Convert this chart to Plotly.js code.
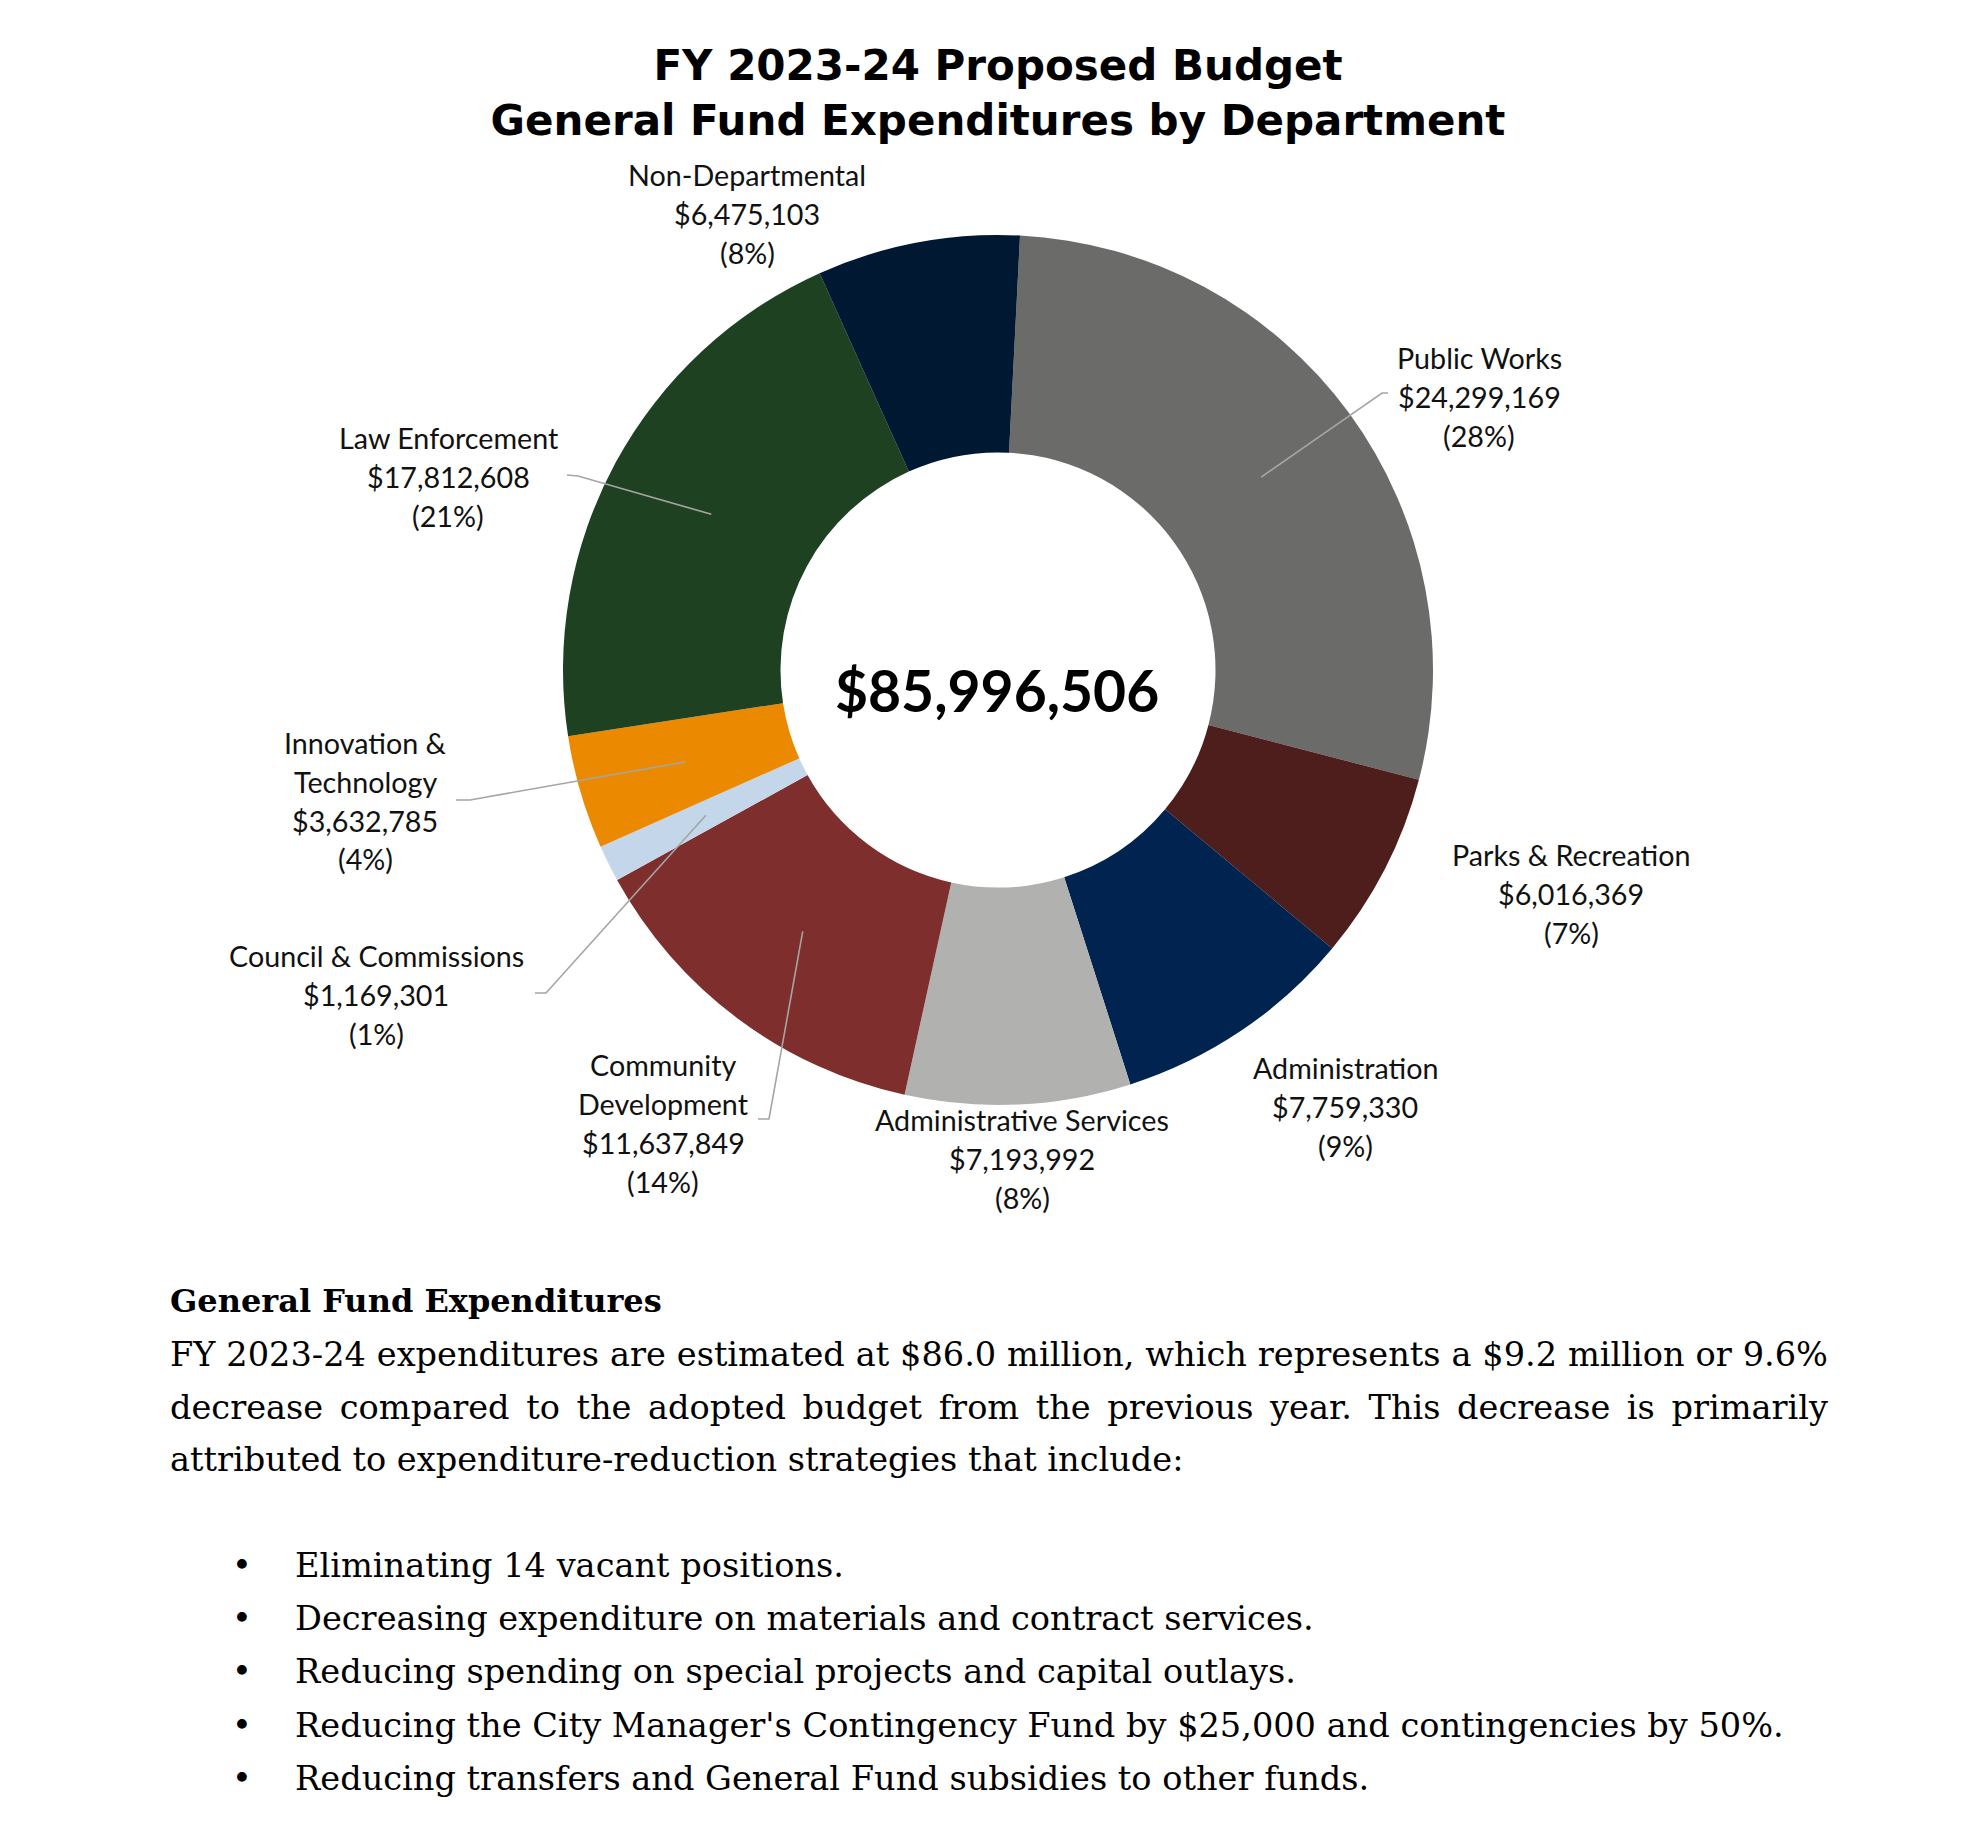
<!DOCTYPE html>
<html>
<head>
<meta charset="utf-8">
<script src="https://cdn.plot.ly/plotly-3.0.1.min.js"></script>
<style>
  html, body { margin: 0; padding: 0; background: #ffffff; }
  #chart { width: 1984px; height: 1832px; }
</style>
</head>
<body>
<div id="chart"></div>
<script>
// ---------------- DATA ----------------
const departments = [
  'Public Works', 'Parks & Recreation', 'Administration', 'Administrative Services',
  'Community Development', 'Council & Commissions', 'Innovation & Technology',
  'Law Enforcement', 'Non-Departmental'
];
const departmentLabelLines = [
  ['Public Works'], ['Parks & Recreation'], ['Administration'], ['Administrative Services'],
  ['Community', 'Development'], ['Council & Commissions'], ['Innovation &', 'Technology'],
  ['Law Enforcement'], ['Non-Departmental']
];
const expenditures = [
  24299169, 6016369, 7759330, 7193992, 11637849, 1169301, 3632785, 17812608, 6475103
];
const sliceColors = [
  '#6b6c69', '#4d1e1c', '#002350', '#b1b2af', '#7d2e2d', '#c4d6e9', '#eb8a00', '#1e4121', '#011833'
];
const titleLines = ['FY 2023-24 Proposed Budget', 'General Fund Expenditures by Department'];
const paragraphHeading = 'General Fund Expenditures';
const paragraphLines = [
  'FY 2023-24 expenditures are estimated at $86.0 million, which represents a $9.2 million or 9.6%',
  'decrease compared to the adopted budget from the previous year. This decrease is primarily',
  'attributed to expenditure-reduction strategies that include:'
];
const bulletItems = [
  'Eliminating 14 vacant positions.',
  'Decreasing expenditure on materials and contract services.',
  'Reducing spending on special projects and capital outlays.',
  "Reducing the City Manager's Contingency Fund by $25,000 and contingencies by 50%.",
  'Reducing transfers and General Fund subsidies to other funds.'
];

// ---------------- LAYOUT / STYLE ----------------
const W = 1984, H = 1832;
const px = x => x / W;
const py = y => 1 - y / H;

const donut = { cx: 998, cy: 670, r: 435, hole: 0.5, rotation: 2.9 };
const labelFont = { family: 'Lato, "Open Sans", sans-serif', size: 28.7, color: '#111111' };
const labelLineGap = 39;
// label block centres and leader-line elbows (pixels)
const labelPlacement = [
  { x: 1479, y: 397, leader: [[1388, 393], [1382, 393]] },
  { x: 1571, y: 894 },
  { x: 1345, y: 1107 },
  { x: 1022, y: 1159 },
  { x: 663,  y: 1123, leader: [[758, 1119], [769, 1119]] },
  { x: 376,  y: 995,  leader: [[535, 993], [546, 993]] },
  { x: 365,  y: 801,  leader: [[456, 800], [470, 800]] },
  { x: 448,  y: 477,  leader: [[567, 475], [578, 476]] },
  { x: 747,  y: 214 }
];
const leaderColor = '#a5a5a5';

const textFont = 'DejaVu Serif, "Liberation Serif", serif';
const para = { left: 168, width: 1658, headY: 1301, lineYs: [1354, 1407, 1459],
               bulletX: 242, bulletTextX: 293, bulletYs: [1565, 1618, 1671, 1725, 1778],
               size: 33.6, headSize: 32 };

// ---------------- BUILD ----------------
const total = expenditures.reduce((a, b) => a + b, 0);
const fmtMoney = v => '$' + v.toLocaleString('en-US');

const annotations = [];
const shapes = [];

// centre total
annotations.push({
  xref: 'paper', yref: 'paper', x: px(donut.cx - 1), y: py(donut.cy + 20),
  xanchor: 'center', yanchor: 'middle', showarrow: false,
  text: fmtMoney(total),
  font: { family: 'Lato, sans-serif', size: 57, color: '#000', weight: 700 }
});

// slice labels and leader lines
let cum = 0;
const ringMid = donut.r * (1 + donut.hole) / 2;
expenditures.forEach((v, i) => {
  const midAngle = (donut.rotation + (cum + v / 2) / total * 360) * Math.PI / 180;
  cum += v;
  const pct = Math.round(v / total * 100);
  const lines = departmentLabelLines[i].concat([fmtMoney(v), '(' + pct + '%)']);
  const p = labelPlacement[i];
  lines.forEach((t, k) => {
    const ly = p.y + (k - (lines.length - 1) / 2) * labelLineGap;
    annotations.push({
      xref: 'paper', yref: 'paper', x: px(p.x), y: py(ly),
      xanchor: 'center', yanchor: 'middle', showarrow: false,
      text: t, font: labelFont
    });
  });
  if (p.leader) {
    const ix = donut.cx + ringMid * Math.sin(midAngle);
    const iy = donut.cy - ringMid * Math.cos(midAngle);
    const pts = p.leader.concat([[ix, iy]]);
    const path = pts.map((q, k) => (k ? 'L' : 'M') + px(q[0]).toFixed(5) + ',' + py(q[1]).toFixed(5)).join(' ');
    shapes.push({ type: 'path', xref: 'paper', yref: 'paper', path: path,
                  line: { color: leaderColor, width: 1.6 }, layer: 'above' });
  }
});

// paragraph
annotations.push({
  xref: 'paper', yref: 'paper', x: px(para.left), y: py(para.headY),
  xanchor: 'left', yanchor: 'middle', align: 'left', showarrow: false,
  text: paragraphHeading, font: { family: textFont, size: para.headSize, color: '#000', weight: 700 }
});
paragraphLines.forEach((t, k) => {
  annotations.push({
    xref: 'paper', yref: 'paper', x: px(para.left), y: py(para.lineYs[k]),
    xanchor: 'left', yanchor: 'middle', align: 'left', showarrow: false,
    text: t, font: { family: textFont, size: para.size, color: '#000' }
  });
});
bulletItems.forEach((t, k) => {
  annotations.push({
    xref: 'paper', yref: 'paper', x: px(para.bulletX), y: py(para.bulletYs[k]),
    xanchor: 'center', yanchor: 'middle', showarrow: false,
    text: '•', font: { family: textFont, size: para.size, color: '#000' }
  });
  annotations.push({
    xref: 'paper', yref: 'paper', x: px(para.bulletTextX), y: py(para.bulletYs[k]),
    xanchor: 'left', yanchor: 'middle', align: 'left', showarrow: false,
    text: t, font: { family: textFont, size: para.size, color: '#000' }
  });
});

const data = [{
  type: 'pie',
  labels: departments,
  values: expenditures,
  sort: false,
  direction: 'clockwise',
  rotation: donut.rotation,
  hole: donut.hole,
  marker: { colors: sliceColors, line: { width: 0 } },
  textinfo: 'none',
  hoverinfo: 'none',
  showlegend: false,
  domain: {
    x: [px(donut.cx - donut.r), px(donut.cx + donut.r)],
    y: [py(donut.cy + donut.r), py(donut.cy - donut.r)]
  }
}];

const layout = {
  width: W, height: H,
  margin: { l: 0, r: 0, t: 0, b: 0 },
  paper_bgcolor: '#ffffff',
  showlegend: false,
  title: {
    text: titleLines.join('<br>'),
    font: { family: '"DejaVu Sans", sans-serif', size: 42, color: '#000', weight: 700 },
    x: px(998), xanchor: 'center', xref: 'paper',
    y: py(80), yanchor: 'middle', yref: 'container'
  },
  annotations: annotations,
  shapes: shapes
};

Plotly.newPlot('chart', data, layout, { staticPlot: true, typesetMath: false, displayModeBar: false })
  .then(gd => {
    // justify the first two paragraph lines to the full text width
    const justify = paragraphLines.slice(0, 2);
    gd.querySelectorAll('.annotation-text').forEach(t => {
      if (justify.indexOf(t.textContent) >= 0) {
        const len = t.getComputedTextLength();
        const spaces = (t.textContent.match(/ /g) || []).length;
        if (spaces && len < para.width) {
          t.setAttribute('word-spacing', ((para.width - len) / spaces).toFixed(2));
        }
      }
    });
  });
</script>
</body>
</html>
